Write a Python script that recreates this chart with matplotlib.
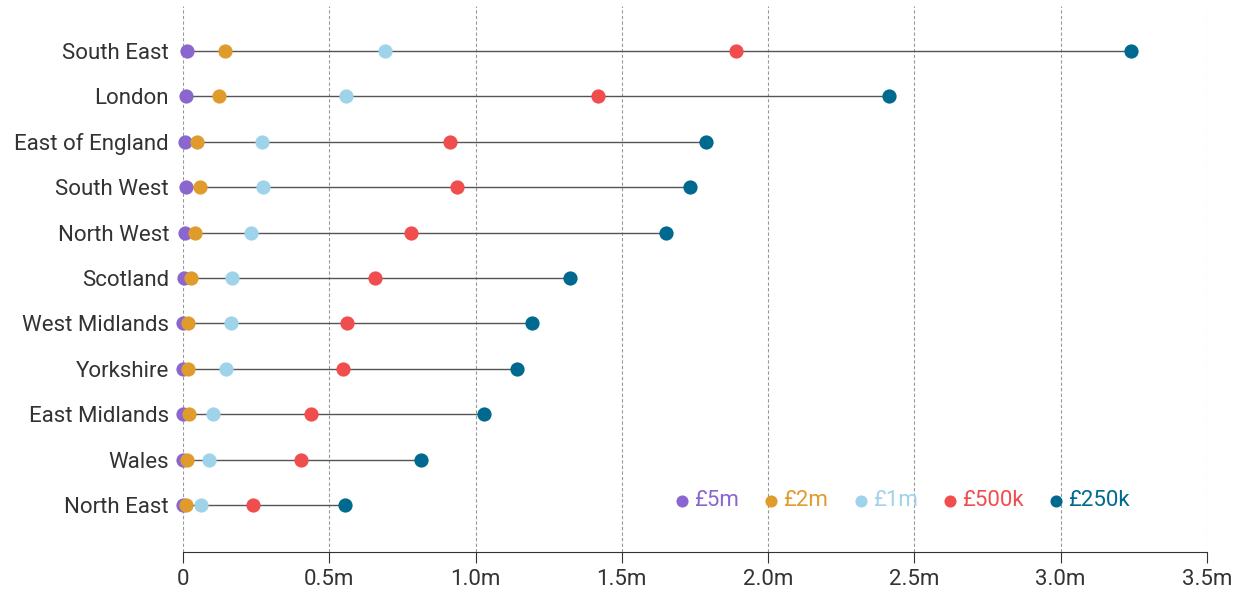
import matplotlib.pyplot as plt
import numpy as np

plt.rcParams['font.family'] = ['Roboto', 'DejaVu Sans']

regions = ["South East", "London", "East of England", "South West", "North West",
           "Scotland", "West Midlands", "Yorkshire", "East Midlands", "Wales", "North East"]

# values in millions
v5m   = [0.014, 0.010, 0.007, 0.009, 0.007, 0.002, 0.000, 0.000, 0.000, 0.000, 0.000]
v2m   = [0.144, 0.123, 0.048, 0.058, 0.041, 0.027, 0.017, 0.017, 0.020, 0.014, 0.009]
v1m   = [0.690, 0.557, 0.270, 0.273, 0.232, 0.167, 0.164, 0.147, 0.103, 0.089, 0.062]
v500k = [1.890, 1.418, 0.913, 0.937, 0.779, 0.656, 0.561, 0.547, 0.437, 0.403, 0.239]
v250k = [3.240, 2.413, 1.787, 1.733, 1.651, 1.323, 1.193, 1.142, 1.029, 0.813, 0.554]

series = [("£5m", v5m, "#8a67cf"),
          ("£2m", v2m, "#e09b2d"),
          ("£1m", v1m, "#9fd3ea"),
          ("£500k", v500k, "#f04d4f"),
          ("£250k", v250k, "#00698f")]

xticks = [0, 0.5, 1.0, 1.5, 2.0, 2.5, 3.0, 3.5]
xticklabels = ["0", "0.5m", "1.0m", "1.5m", "2.0m", "2.5m", "3.0m", "3.5m"]

fig = plt.figure(figsize=(12.42, 5.94), dpi=100)
ax = fig.add_axes([0.1473, 0.0707, 0.8245, 0.9193])

y = np.arange(len(regions))
lo = np.min([s[1] for s in series], axis=0)
hi = np.max([s[1] for s in series], axis=0)
ax.hlines(y, lo, hi, color="#555555", lw=1.0, zorder=2)

for label, vals, col in series:
    ax.scatter(vals, y, s=105, color=col, zorder=3, linewidths=0, label=label,
               clip_on=False)

ax.set_xlim(0, 3.5)
ax.set_ylim(11.03, -0.99)
ax.set_yticks(y)
ax.set_yticklabels(regions)
ax.set_xticks(xticks)
ax.set_xticklabels(xticklabels)

ax.grid(axis="x", color="#999999", linestyle=(0, (3, 2)), lw=0.8, zorder=0)
for s in ["top", "right", "left"]:
    ax.spines[s].set_visible(False)
ax.spines["bottom"].set_color("#333333")
ax.tick_params(axis="y", length=0, pad=10, labelsize=16, labelcolor="#333333")
ax.tick_params(axis="x", length=8, color="#333333", labelsize=16, labelcolor="#333333", pad=4)

leg = ax.legend(loc="center", bbox_to_anchor=(902 / 1242, 1 - 501 / 594),
                bbox_transform=fig.transFigure, ncol=5, frameon=False,
                fontsize=16, handlelength=0.7, handletextpad=0.2, columnspacing=1.1,
                markerscale=0.85, labelcolor="markerfacecolor")

fig.savefig("out.png", dpi=100)
